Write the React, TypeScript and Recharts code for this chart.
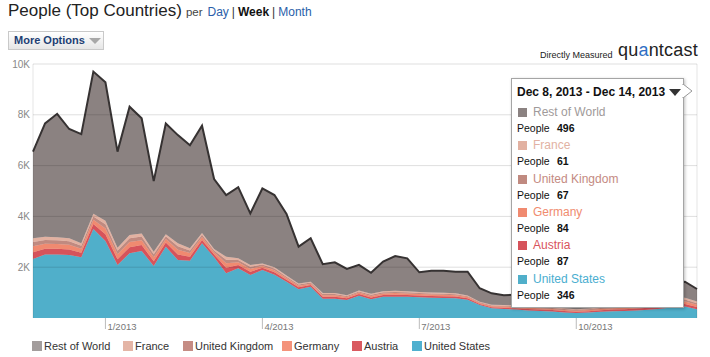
import React from 'react';
import { AreaChart, Area, XAxis, YAxis, Tooltip, ReferenceLine } from 'recharts';

// Weekly buckets, first week starts Sunday Nov 18, 2012 (56 weeks)
const firstWeekStart = Date.UTC(2012, 10, 18);
const weekCount = 56;
const weekStarts: number[] = Array.from({ length: weekCount }, (_, i) => firstWeekStart + i * 7 * 86400000);

const unitedStates = [2320, 2500, 2500, 2480, 2390, 3500, 3030, 2090, 2550, 2640, 2050, 2810, 2280, 2250, 2940, 2390, 1760, 1960, 1690, 1890, 1700, 1430, 1130, 1230, 760, 760, 710, 880, 740, 840, 840, 840, 820, 800, 790, 780, 720, 510, 380, 350, 330, 300, 280, 260, 220, 200, 220, 250, 270, 280, 300, 320, 360, 420, 450, 346];
const austria = [270, 230, 225, 220, 180, 200, 265, 225, 240, 230, 185, 160, 220, 165, 135, 110, 215, 130, 132, 86, 100, 80, 76, 66, 73, 73, 63, 66, 70, 70, 76, 70, 66, 66, 66, 63, 56, 43, 46, 53, 56, 56, 56, 53, 53, 46, 50, 56, 60, 66, 73, 86, 96, 100, 100, 87];
const germany = [230, 195, 190, 185, 155, 170, 225, 190, 200, 195, 155, 140, 185, 140, 115, 92, 180, 108, 112, 73, 84, 67, 64, 56, 62, 62, 53, 56, 59, 59, 64, 59, 56, 56, 56, 53, 48, 36, 39, 45, 48, 48, 48, 45, 45, 39, 42, 48, 50, 56, 62, 73, 81, 92, 95, 84];
const unitedKingdom = [170, 150, 145, 140, 115, 125, 170, 145, 150, 145, 120, 105, 140, 105, 85, 70, 137, 82, 84, 55, 63, 50, 48, 42, 46, 46, 40, 42, 44, 44, 48, 44, 42, 42, 42, 40, 36, 28, 30, 34, 36, 36, 36, 34, 34, 30, 32, 36, 38, 42, 46, 55, 61, 72, 80, 67];
const france = [150, 125, 120, 115, 100, 105, 140, 120, 130, 120, 100, 85, 115, 90, 75, 58, 118, 70, 72, 46, 53, 43, 42, 36, 39, 39, 34, 36, 37, 37, 42, 37, 36, 36, 36, 34, 30, 23, 25, 28, 30, 30, 30, 28, 28, 25, 26, 30, 32, 36, 39, 46, 52, 66, 75, 61];
const restOfWorld = [3410, 4460, 4860, 4300, 4300, 5600, 5450, 3780, 5050, 4530, 2780, 4360, 4260, 4050, 4220, 2750, 2430, 2800, 2030, 2950, 2840, 2430, 1450, 1710, 1140, 1210, 1030, 1010, 830, 1170, 1370, 1300, 780, 860, 870, 850, 930, 530, 450, 390, 420, 480, 530, 510, 500, 560, 580, 580, 600, 620, 680, 720, 700, 650, 630, 496];

const yTicks = [0, 2000, 4000, 6000, 8000, 10000];
const xTickWeeks = [Date.UTC(2012, 11, 30), Date.UTC(2013, 2, 31), Date.UTC(2013, 5, 30), Date.UTC(2013, 8, 29)];
const xTickLabels = ['1/2013', '4/2013', '7/2013', '10/2013'];
const hoveredWeekIndex = 55;

// series: bottom -> top of the stack
const series = [
  { key: 'us', name: 'United States', values: unitedStates, fill: '#50afca', label: '#4aaed0', legend: '#4fb0cf' },
  { key: 'at', name: 'Austria', values: austria, fill: '#d6535b', label: '#d9545c', legend: '#d95a60' },
  { key: 'de', name: 'Germany', values: germany, fill: '#f08a70', label: '#f08c6f', legend: '#f4937b' },
  { key: 'uk', name: 'United Kingdom', values: unitedKingdom, fill: '#c08a80', label: '#c48a82', legend: '#c58c84' },
  { key: 'fr', name: 'France', values: france, fill: '#e2b1a1', label: '#e2b2a3', legend: '#e4b5a6' },
  { key: 'row', name: 'Rest of World', values: restOfWorld, fill: '#8b8281', label: '#a09a9a', legend: '#a39d9c' },
];

const rows = weekStarts.map((w, i) => {
  const r: any = { i, week: w };
  series.forEach((s) => { r[s.key] = s.values[i]; });
  return r;
});

const xTickIndices = xTickWeeks.map((w) => weekStarts.indexOf(w));

const MONTHS = ['Jan', 'Feb', 'Mar', 'Apr', 'May', 'Jun', 'Jul', 'Aug', 'Sep', 'Oct', 'Nov', 'Dec'];
const fmt = (t: number) => {
  const d = new Date(t);
  return `${MONTHS[d.getUTCMonth()]} ${d.getUTCDate()}, ${d.getUTCFullYear()}`;
};

const FONT = 'Arial, "Liberation Sans", sans-serif';

const XTick = (props: any) => {
  const { x, y, payload } = props;
  const idx = xTickIndices.indexOf(payload.value);
  const label = idx >= 0 ? xTickLabels[idx] : '';
  return (
    <g>
      <line x1={x} y1={y} x2={x} y2={y + 11} stroke="#bbb" strokeWidth={1} />
      <text x={x + 2} y={y + 12} fill="#777" fontSize={9.5} fontFamily={FONT}>{label}</text>
    </g>
  );
};

const TooltipBox = (props: any) => {
  const { active, payload } = props;
  if (!active || !payload || !payload.length) return null;
  const row = payload[0].payload;
  const start = row.week;
  const end = start + 6 * 86400000;
  const items = [...series].reverse();
  return (
    <div style={{ position: 'relative', width: 173, height: 230, background: '#fff', border: '1px solid #a5a5a5', boxShadow: '1px 1px 3px rgba(0,0,0,0.25)', fontFamily: FONT, boxSizing: 'border-box' }}>
      <div style={{ position: 'absolute', left: 5, top: 5, fontSize: 12, fontWeight: 'bold', color: '#111', whiteSpace: 'nowrap', lineHeight: '16px' }}>
        {fmt(start)} - {fmt(end)}
      </div>
      <div style={{ position: 'absolute', left: 157, top: 10, width: 0, height: 0, borderLeft: '6px solid transparent', borderRight: '6px solid transparent', borderTop: '7px solid #333' }} />
      <svg style={{ position: 'absolute', left: 171, top: 5, overflow: 'visible' }} width={12} height={16}>
        <polygon points="0,0 9,7 0,14" fill="#fff" stroke="#999" strokeWidth={1} />
        <line x1={0} y1={1} x2={0} y2={13} stroke="#fff" strokeWidth={2} />
      </svg>
      {items.map((s, k) => {
        const top = 25 + k * 33.3;
        return (
          <div key={s.key}>
            <div style={{ position: 'absolute', left: 6, top: top + 4, width: 9, height: 9, background: s.fill }} />
            <div style={{ position: 'absolute', left: 21, top, fontSize: 12, color: s.label, lineHeight: '17px', whiteSpace: 'nowrap' }}>{s.name}</div>
            <div style={{ position: 'absolute', left: 5, top: top + 16, fontSize: 10.5, color: '#111', lineHeight: '16px', whiteSpace: 'nowrap' }}>People</div>
            <div style={{ position: 'absolute', left: 45, top: top + 16, fontSize: 10.5, fontWeight: 'bold', color: '#111', lineHeight: '16px' }}>{row[s.key]}</div>
          </div>
        );
      })}
    </div>
  );
};

const legendX = [32, 123, 183, 282, 352, 412];

export default function App() {
  const legendItems = [...series].reverse();
  return (
    <div style={{ position: 'absolute', left: 0, top: 0, width: 710, height: 357, background: '#fff', fontFamily: FONT, overflow: 'hidden' }}>
      {/* Title row */}
      <div style={{ position: 'absolute', left: 8, top: 1, whiteSpace: 'nowrap', display: 'flex', alignItems: 'baseline' }}>
        <span style={{ fontSize: 17, color: '#222' }}>People (Top Countries)</span>
        <span style={{ fontSize: 11.5, color: '#444', marginLeft: 4 }}>per</span>
        <span style={{ fontSize: 12, color: '#2a5ea9', marginLeft: 5 }}>Day</span>
        <span style={{ fontSize: 12, color: '#333', margin: '0 3px' }}>|</span>
        <span style={{ fontSize: 12, color: '#111', fontWeight: 'bold' }}>Week</span>
        <span style={{ fontSize: 12, color: '#333', margin: '0 3px' }}>|</span>
        <span style={{ fontSize: 12, color: '#2a5ea9' }}>Month</span>
      </div>
      {/* More Options button */}
      <div style={{ position: 'absolute', left: 8, top: 31, width: 96, height: 19, boxSizing: 'border-box', border: '1px solid #c9c9c9', background: 'linear-gradient(#ffffff, #e6e6e6)', fontSize: 11, fontWeight: 'bold', color: '#1d3f74', lineHeight: '17px', paddingLeft: 5 }}>
        More Options
        <div style={{ position: 'absolute', left: 80, top: 6, width: 0, height: 0, borderLeft: '6px solid transparent', borderRight: '6px solid transparent', borderTop: '6px solid #a8a8a8' }} />
      </div>
      {/* Branding */}
      <div style={{ position: 'absolute', left: 540, top: 50, fontSize: 9, color: '#222', whiteSpace: 'nowrap' }}>Directly Measured</div>
      <div style={{ position: 'absolute', left: 618, top: 40, fontSize: 18, color: '#222', whiteSpace: 'nowrap', letterSpacing: 0.2 }}>
        qu<span style={{ color: '#2f6fc4' }}>a</span>ntcast
      </div>

      <div style={{ position: 'absolute', left: 0, top: 0 }}>
        <AreaChart width={710} height={357} data={rows} margin={{ top: 64, right: 13, bottom: 19, left: 0 }}>
          <XAxis dataKey="i" type="number" domain={[0, weekCount - 1]} ticks={xTickIndices} interval={0} tick={<XTick />} tickLine={false} axisLine={false} tickSize={0} tickMargin={0} height={20} />
          <YAxis width={33} domain={[0, 10000]} ticks={yTicks} interval={0} tickFormatter={(v: number) => (v === 0 ? '' : `${v / 1000}K`)} tickLine={false} axisLine={false} tickSize={0} tickMargin={3} tick={{ fill: '#888', fontSize: 10, fontFamily: FONT }} />
          {series.map((s) => (
            <Area
              key={s.key}
              type="linear"
              dataKey={s.key}
              name={s.name}
              stackId="1"
              fill={s.fill}
              fillOpacity={1}
              stroke={s.key === 'row' ? '#363232' : s.fill}
              strokeWidth={s.key === 'row' ? 2 : 0.5}
              dot={false}
              activeDot={false}
              isAnimationActive={false}
            />
          ))}
          {yTicks.filter((v) => v > 0).map((v) => (
            <ReferenceLine key={v} y={v} stroke="rgba(0,0,0,0.13)" strokeWidth={1} />
          ))}
          <ReferenceLine x={0} stroke="rgba(0,0,0,0.1)" />
          <ReferenceLine x={weekCount - 1} stroke="rgba(0,0,0,0.1)" />
          <Tooltip
            active
            defaultIndex={hoveredWeekIndex}
            position={{ x: 511, y: 78 }}
            cursor={false}
            isAnimationActive={false}
            allowEscapeViewBox={{ x: true, y: true }}
            content={<TooltipBox />}
            wrapperStyle={{ outline: 'none', zIndex: 5 }}
          />
        </AreaChart>
      </div>

      {/* Legend */}
      {legendItems.map((s, k) => (
        <div key={s.key} style={{ position: 'absolute', left: legendX[k], top: 340, height: 11, display: 'flex', alignItems: 'center', whiteSpace: 'nowrap' }}>
          <div style={{ width: 10, height: 10, background: s.legend }} />
          <span style={{ marginLeft: 2, fontSize: 11, color: '#333' }}>{s.name}</span>
        </div>
      ))}
    </div>
  );
}
